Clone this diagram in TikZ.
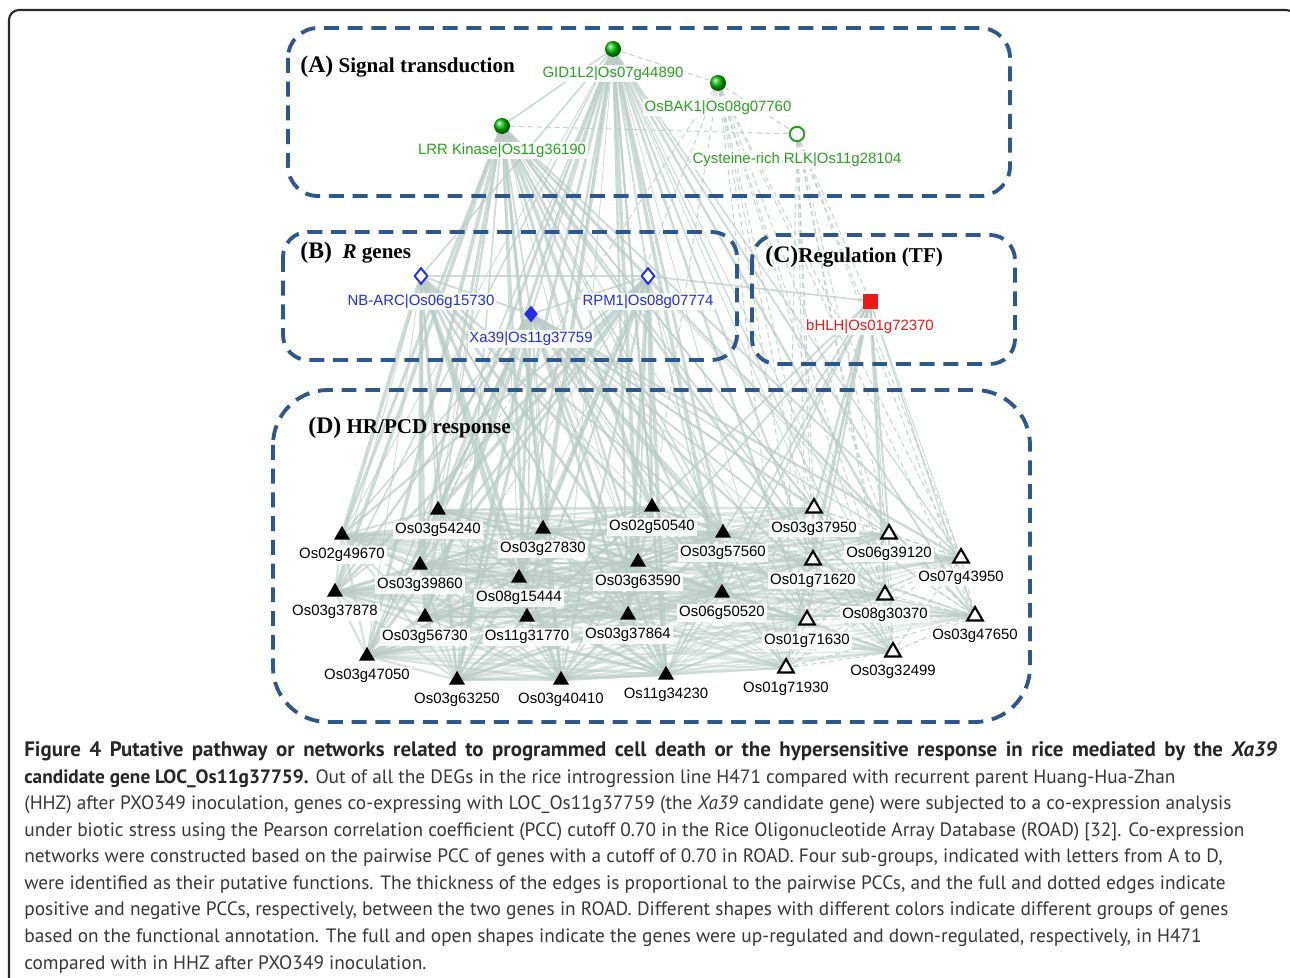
\documentclass[tikz,border=0pt]{standalone}
\usepackage{fontspec}
\setmainfont{Liberation Serif}
\setsansfont{Liberation Sans}
\newfontfamily\capfont{PT Sans}
\usetikzlibrary{shapes.geometric,positioning}

\definecolor{boxblue}{RGB}{47,88,138}
\definecolor{edgegray}{RGB}{186,203,197}
\definecolor{genegreen}{RGB}{40,160,30}
\definecolor{geneblue}{RGB}{35,45,225}
\definecolor{genered}{RGB}{235,25,25}
\definecolor{framegray}{RGB}{40,40,40}
\definecolor{captext}{RGB}{55,55,55}

\pgfdeclarelayer{bg}
\pgfsetlayers{bg,main}

\tikzset{
  grp/.style={draw=boxblue,line width=2.2pt,dash pattern=on 8.5pt off 5pt},
  link/.style={draw=edgegray,line width=1pt,opacity=0.7},
  neglink/.style={draw=edgegray,line width=0.6pt,opacity=0.8,dash pattern=on 3pt off 2pt},
  lbl/.style={font=\sffamily\fontsize{8.5}{9}\selectfont,fill=white,fill opacity=0.85,text opacity=1,inner sep=1pt},
  head/.style={font=\rmfamily\bfseries\fontsize{12}{14}\selectfont,inner sep=0pt,anchor=base west},
  upt/.style={regular polygon,regular polygon sides=3,fill=black,minimum size=0.37cm,inner sep=0pt},
  downt/.style={regular polygon,regular polygon sides=3,fill=white,draw=black,line width=1.2pt,minimum size=0.36cm,inner sep=0pt},
  upball/.style={circle,ball color=green!75!black,minimum size=0.32cm,inner sep=0pt},
  downball/.style={circle,draw=genegreen,line width=1.1pt,fill=white,minimum size=0.29cm,inner sep=0pt},
  updia/.style={diamond,fill=geneblue,minimum width=0.28cm,minimum height=0.34cm,inner sep=0pt},
  downdia/.style={diamond,draw=geneblue,line width=1.1pt,fill=white,minimum width=0.27cm,minimum height=0.33cm,inner sep=0pt},
  upsq/.style={rectangle,fill=genered,minimum size=0.3cm,inner sep=0pt}
}

\newcommand\filledlist{os02g49670,os03g54240,os03g27830,os02g50540,os03g57560,os03g39860,os08g15444,os03g63590,os03g37878,os03g56730,os11g31770,os03g37864,os06g50520,os03g47050,os03g63250,os03g40410,os11g34230}
\newcommand\openlist{os03g37950,os06g39120,os01g71620,os07g43950,os08g30370,os01g71630,os03g47650,os03g32499,os01g71930}

\begin{document}
\begin{tikzpicture}[x=0.02cm,y=-0.02cm]
\clip (0,0) rectangle (1290,977);
\begin{pgfonlayer}{bg}
\fill[white] (0,0) rectangle (1290,977);
\end{pgfonlayer}
% figure frame
\draw[framegray,line width=1.2pt,rounded corners=0.2cm] (9,10) rectangle (1296,1010);

% sub-groups
\draw[grp,rounded corners=0.6cm] (288,28) rectangle (1010,196);
\draw[grp,rounded corners=0.5cm] (283,232) rectangle (737,360);
\draw[grp,rounded corners=0.5cm] (752,235) rectangle (1015,364);
\draw[grp,rounded corners=1.1cm] (273,390) rectangle (1030,722);

\node[head] (headA) at (300,72) {{\fontsize{13.5}{14}\selectfont(A)} Signal transduction};
\node[head] (headB) at (300,258) {{\fontsize{13.5}{14}\selectfont(B)}\ \ \textit{R} genes};
\node[head] (headC) at (765,262) {{\fontsize{13.5}{14}\selectfont(C)}Regulation (TF)};
\node[head] (headD) at (308,433) {{\fontsize{13.5}{14}\selectfont(D)} HR/PCD response};

% (A) signal transduction
\node[upball] (gid1l2) at (613,49) {};
\node[lbl,text=genegreen,below=4pt of gid1l2] (gid1l2-t) {GID1L2|Os07g44890};
\node[upball] (osbak1) at (718,83) {};
\node[lbl,text=genegreen,below=4pt of osbak1] (osbak1-t) {OsBAK1|Os08g07760};
\node[upball] (lrr) at (502,126) {};
\node[lbl,text=genegreen,below=4pt of lrr] (lrr-t) {LRR Kinase|Os11g36190};
\node[downball] (cysrlk) at (797,134) {};
\node[lbl,text=genegreen,below=5pt of cysrlk] (cysrlk-t) {Cysteine-rich RLK|Os11g28104};

% (B) R genes
\node[downdia] (nbarc) at (421,276) {};
\node[lbl,text=geneblue,below=4pt of nbarc] (nbarc-t) {NB-ARC|Os06g15730};
\node[downdia] (rpm1) at (648,276) {};
\node[lbl,text=geneblue,below=4pt of rpm1] (rpm1-t) {RPM1|Os08g07774};
\node[updia] (xa39) at (531,314) {};
\node[lbl,text=geneblue,below=4pt of xa39] (xa39-t) {Xa39|Os11g37759};

% (C) regulation
\node[upsq] (bhlh) at (870,301) {};
\node[lbl,text=genered,below=5pt of bhlh] (bhlh-t) {bHLH|Os01g72370};

% (D) HR/PCD response, up-regulated
\node[upt] (os02g49670) at (342,535) {};
\node[lbl,below=3.5pt of os02g49670] (os02g49670-t) {Os02g49670};
\node[upt] (os03g54240) at (438,510) {};
\node[lbl,below=3.5pt of os03g54240] (os03g54240-t) {Os03g54240};
\node[upt] (os03g27830) at (543,529) {};
\node[lbl,below=3.5pt of os03g27830] (os03g27830-t) {Os03g27830};
\node[upt] (os02g50540) at (652,507) {};
\node[lbl,below=3.5pt of os02g50540] (os02g50540-t) {Os02g50540};
\node[upt] (os03g57560) at (723,533) {};
\node[lbl,below=3.5pt of os03g57560] (os03g57560-t) {Os03g57560};
\node[upt] (os03g39860) at (420,565) {};
\node[lbl,below=3.5pt of os03g39860] (os03g39860-t) {Os03g39860};
\node[upt] (os08g15444) at (519,578) {};
\node[lbl,below=3.5pt of os08g15444] (os08g15444-t) {Os08g15444};
\node[upt] (os03g63590) at (638,562) {};
\node[lbl,below=3.5pt of os03g63590] (os03g63590-t) {Os03g63590};
\node[upt] (os03g37878) at (335,592) {};
\node[lbl,below=3.5pt of os03g37878] (os03g37878-t) {Os03g37878};
\node[upt] (os03g56730) at (425,617) {};
\node[lbl,below=3.5pt of os03g56730] (os03g56730-t) {Os03g56730};
\node[upt] (os11g31770) at (527,617) {};
\node[lbl,below=3.5pt of os11g31770] (os11g31770-t) {Os11g31770};
\node[upt] (os03g37864) at (628,615) {};
\node[lbl,below=3.5pt of os03g37864] (os03g37864-t) {Os03g37864};
\node[upt] (os06g50520) at (722,593) {};
\node[lbl,below=3.5pt of os06g50520] (os06g50520-t) {Os06g50520};
\node[upt] (os03g47050) at (367,656) {};
\node[lbl,below=3.5pt of os03g47050] (os03g47050-t) {Os03g47050};
\node[upt] (os03g63250) at (457,680) {};
\node[lbl,below=3.5pt of os03g63250] (os03g63250-t) {Os03g63250};
\node[upt] (os03g40410) at (561,680) {};
\node[lbl,below=3.5pt of os03g40410] (os03g40410-t) {Os03g40410};
\node[upt] (os11g34230) at (666,675) {};
\node[lbl,below=3.5pt of os11g34230] (os11g34230-t) {Os11g34230};

% (D) HR/PCD response, down-regulated
\node[downt] (os03g37950) at (814,508) {};
\node[lbl,below=3.5pt of os03g37950] (os03g37950-t) {Os03g37950};
\node[downt] (os06g39120) at (889,534) {};
\node[lbl,below=3pt of os06g39120] (os06g39120-t) {Os06g39120};
\node[downt] (os01g71620) at (813,560) {};
\node[lbl,below=3.5pt of os01g71620] (os01g71620-t) {Os01g71620};
\node[downt] (os07g43950) at (961,558) {};
\node[lbl,below=3pt of os07g43950] (os07g43950-t) {Os07g43950};
\node[downt] (os08g30370) at (885,595) {};
\node[lbl,below=3pt of os08g30370] (os08g30370-t) {Os08g30370};
\node[downt] (os01g71630) at (807,620) {};
\node[lbl,below=3.5pt of os01g71630] (os01g71630-t) {Os01g71630};
\node[downt] (os03g47650) at (975,616) {};
\node[lbl,below=3pt of os03g47650] (os03g47650-t) {Os03g47650};
\node[downt] (os03g32499) at (893,652) {};
\node[lbl,below=3pt of os03g32499] (os03g32499-t) {Os03g32499};
\node[downt] (os01g71930) at (786,668) {};
\node[lbl,below=3.5pt of os01g71930] (os01g71930-t) {Os01g71930};

% co-expression edges
\begin{pgfonlayer}{bg}
\foreach \a [count=\i] in {gid1l2,lrr,xa39,nbarc,rpm1}
  \foreach \b [count=\j] in \filledlist {
    \pgfmathsetmacro\w{0.5+0.4*mod(\i*3+\j*7,5)}
    \draw[link,line width=\w pt] (\a) -- (\b);
  }
\foreach \a [count=\i] in {gid1l2,lrr,xa39,bhlh}
  \foreach \b [count=\j] in \openlist {
    \pgfmathsetmacro\w{0.5+0.3*mod(\i*5+\j*3,4)}
    \draw[link,line width=\w pt] (\a) -- (\b);
  }
\foreach \a in {osbak1,cysrlk}
  \foreach \b in \openlist
    \draw[neglink] (\a) -- (\b);
\foreach \b in {os02g50540,os03g57560,os06g50520,os03g63590,os11g34230}
  \draw[link] (bhlh) -- (\b);
\foreach \b in {os03g54240,os03g27830,os02g50540}
  \draw[neglink] (osbak1) -- (\b);
\foreach \a [count=\i] in \filledlist
  \foreach \b [count=\j] in \filledlist {
    \ifnum\j>\i \draw[link,opacity=0.55,line width=1.3pt] (\a) -- (\b); \fi
  }
\foreach \a in \filledlist
  \foreach \b in \openlist
    \draw[link,opacity=0.4] (\a) -- (\b);
\foreach \a [count=\i] in \openlist
  \foreach \b [count=\j] in \openlist {
    \ifnum\j>\i \draw[neglink] (\a) -- (\b); \fi
  }
\draw[neglink] (gid1l2) -- (osbak1);
\draw[neglink] (lrr) -- (cysrlk);
\draw[neglink] (osbak1) -- (cysrlk);
\draw[link] (gid1l2) -- (lrr);
\draw[link] (nbarc) -- (rpm1);
\draw[link] (xa39) -- (rpm1);
\draw[link] (xa39) -- (nbarc);
\draw[link] (rpm1) -- (bhlh);
\draw[link] (gid1l2) -- (xa39);
\draw[link] (gid1l2) -- (rpm1);
\draw[link] (gid1l2) -- (nbarc);
\draw[link] (lrr) -- (xa39);
\draw[neglink] (cysrlk) -- (bhlh);
\end{pgfonlayer}

% caption
\node[anchor=base west,inner sep=0pt,align=left,text=captext,
      font=\capfont\fontsize{11}{15.1}\selectfont] (caption) at (24,969)
{\makebox[25.06cm][s]{\fontsize{11.9}{15.1}\selectfont\textbf{\color{black!85}Figure 4 Putative pathway or networks related to programmed cell death or the hypersensitive response in rice mediated by the \textit{Xa39}}}\\
\textbf{\color{black!85}candidate gene LOC\_Os11g37759.} Out of all the DEGs in the rice introgression line H471 compared with recurrent parent Huang-Hua-Zhan\\
(HHZ) after PXO349 inoculation, genes co-expressing with LOC\_Os11g37759 (the \textit{Xa39} candidate gene) were subjected to a co-expression analysis\\
under biotic stress using the Pearson correlation coefficient (PCC) cutoff 0.70 in the Rice Oligonucleotide Array Database (ROAD) [32]. Co-expression\\
networks were constructed based on the pairwise PCC of genes with a cutoff of 0.70 in ROAD. Four sub-groups, indicated with letters from A to D,\\
were identified as their putative functions. The thickness of the edges is proportional to the pairwise PCCs, and the full and dotted edges indicate\\
positive and negative PCCs, respectively, between the two genes in ROAD. Different shapes with different colors indicate different groups of genes\\
based on the functional annotation. The full and open shapes indicate the genes were up-regulated and down-regulated, respectively, in H471\\
compared with in HHZ after PXO349 inoculation.};
\end{tikzpicture}
\end{document}
